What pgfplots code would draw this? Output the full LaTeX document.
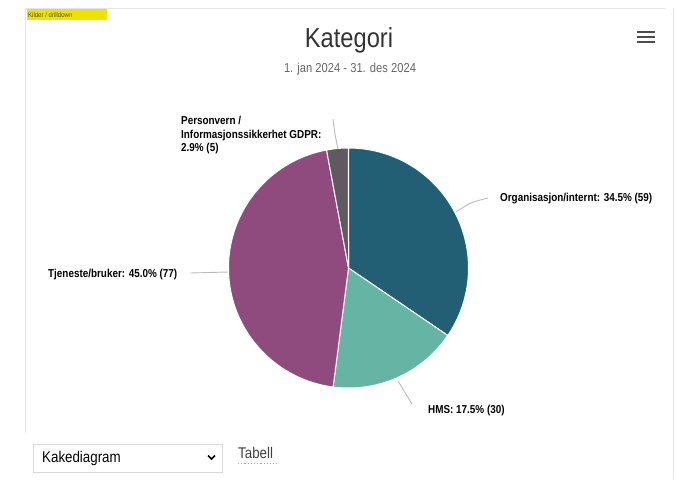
\documentclass[border=0pt]{standalone}
\usepackage{pgfplots}
\pgfplotsset{compat=1.18}
\usepackage{pgfplotstable}
\usepackage{fontspec}
\setmainfont{Liberation Sans}
\newfontfamily\cond[FakeStretch=0.86]{Liberation Sans}
\definecolor{cOrg}{HTML}{225F75}
\definecolor{cHms}{HTML}{65B4A4}
\definecolor{cTj}{HTML}{8F4B7D}
\definecolor{cPv}{HTML}{5E5A5F}
\definecolor{conn}{HTML}{BBBBBB}
\definecolor{frame}{HTML}{E4E4E4}

\pgfplotstableread{
cat value
Org 59
HMS 30
Tj 77
Pv 5
}\piedata
\pgfplotstablegetelem{0}{value}\of\piedata \let\vA\pgfplotsretval%
\pgfplotstablegetelem{1}{value}\of\piedata \let\vB\pgfplotsretval%
\pgfplotstablegetelem{2}{value}\of\piedata \let\vC\pgfplotsretval%
\pgfplotstablegetelem{3}{value}\of\piedata \let\vD\pgfplotsretval%
\pgfmathsetmacro\tot{\vA+\vB+\vC+\vD}%
\pgfmathsetmacro\aA{-90}%
\pgfmathsetmacro\aB{\aA+\vA/\tot*360}%
\pgfmathsetmacro\aC{\aB+\vB/\tot*360}%
\pgfmathsetmacro\aD{\aC+\vC/\tot*360}%
\pgfmathsetmacro\aE{\aD+\vD/\tot*360}%

\begin{document}%
\begin{tikzpicture}
\begin{axis}[
  scale only axis, width=677pt, height=479pt,
  xmin=0, xmax=677, ymin=0, ymax=479, y dir=reverse,
  hide axis, clip=false,
]
% background & frame
\fill[white] (0,0) rectangle (677,479);
\draw[frame, line width=1pt] (25,8) -- (665,8);
\draw[frame, line width=1pt] (25,8) -- (25,433);
\draw[frame, line width=1pt] (673,8) -- (673,479);
% highlighted tag
\fill[yellow!85!olive] (27,9) rectangle (107,20);
\node[anchor=west, inner sep=0, text=black!55!olive] at (28,14.5) {\cond\fontsize{7}{8}\selectfont Kilder / drilldown};
% title
\node[text=black!80] at (349,40) {\cond\fontsize{27.5}{31}\selectfont Kategori};
\node[text=black!60] at (350,69) {\cond\fontsize{13}{15}\selectfont 1. jan 2024 - 31. des 2024};
% hamburger
\draw[black!70, line width=2.6pt] (637,32) -- (655,32);
\draw[black!70, line width=2.6pt] (637,37) -- (655,37);
\draw[black!70, line width=2.6pt] (637,42) -- (655,42);
% pie slices
\addplot[fill=cOrg, draw=white, line width=1pt, line join=round, domain=\aA:\aB, samples=90, variable=\t]
  ({348.5+120*cos(\t)}, {268+120*sin(\t)}) -- (axis cs:348.5,268) -- cycle;
\addplot[fill=cHms, draw=white, line width=1pt, line join=round, domain=\aB:\aC, samples=60, variable=\t]
  ({348.5+120*cos(\t)}, {268+120*sin(\t)}) -- (axis cs:348.5,268) -- cycle;
\addplot[fill=cTj, draw=white, line width=1pt, line join=round, domain=\aC:\aD, samples=110, variable=\t]
  ({348.5+120*cos(\t)}, {268+120*sin(\t)}) -- (axis cs:348.5,268) -- cycle;
\addplot[fill=cPv, draw=white, line width=1pt, line join=round, domain=\aD:\aE, samples=12, variable=\t]
  ({348.5+120*cos(\t)}, {268+120*sin(\t)}) -- (axis cs:348.5,268) -- cycle;
% connectors
\addplot[conn, line width=0.9pt, smooth] coordinates {(456,212) (471,203) (488,198)};
\addplot[conn, line width=0.9pt] coordinates {(398,381) (412,404)};
\addplot[conn, line width=0.9pt] coordinates {(228,272) (190,273)};
\addplot[conn, line width=0.9pt, smooth] coordinates {(338,149) (335,134) (333,119)};
% labels
\node[anchor=west, inner sep=0] at (500,199) {\cond\bfseries\fontsize{11.5}{13.5}\selectfont Organisasjon/internt: 34.5\% (59)};
\node[anchor=west, inner sep=0] at (428,411) {\cond\bfseries\fontsize{11.5}{13.5}\selectfont HMS: 17.5\% (30)};
\node[anchor=west, inner sep=0] at (48,275) {\cond\bfseries\fontsize{11.5}{13.5}\selectfont Tjeneste/bruker: 45.0\% (77)};
\node[anchor=north west, inner sep=0, align=left, font=\cond\bfseries\fontsize{11.5}{13.5}\selectfont] at (181,116)
  {Personvern /\\Informasjonssikkerhet GDPR:\\2.9\% (5)};
% dropdown
\draw[black!15, line width=1pt] (33,444) rectangle (222,472);
\node[anchor=west, inner sep=0] at (42,458) {\cond\fontsize{15.5}{17}\selectfont Kakediagram};
\draw[black, line width=1.7pt] (208,455.5) -- (211.5,459) -- (215,455.5);
\node[anchor=west, inner sep=0, text=black!75] at (238,453) {\cond\fontsize{15.5}{17}\selectfont Tabell};
\draw[black!35, line width=1.2pt, dotted] (238,463.5) -- (277,463.5);
\end{axis}
\pgfresetboundingbox
\path (0,0) rectangle (677pt,479pt);
\end{tikzpicture}%
\end{document}
